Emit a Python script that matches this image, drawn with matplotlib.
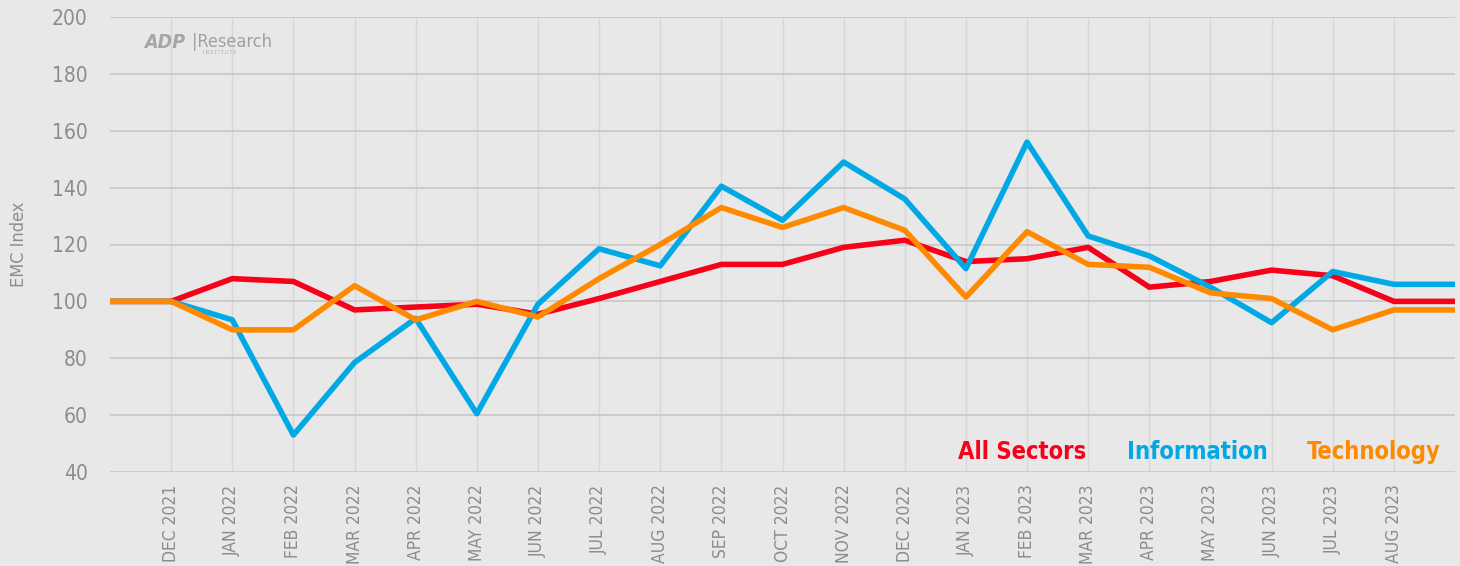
import matplotlib
matplotlib.use("Agg")
import matplotlib.pyplot as plt

months = ["", "DEC 2021", "JAN 2022", "FEB 2022", "MAR 2022", "APR 2022", "MAY 2022",
          "JUN 2022", "JUL 2022", "AUG 2022", "SEP 2022", "OCT 2022", "NOV 2022",
          "DEC 2022", "JAN 2023", "FEB 2023", "MAR 2023", "APR 2023", "MAY 2023",
          "JUN 2023", "JUL 2023", "AUG 2023", ""]

all_sectors = [100, 100, 108, 107, 97, 98, 99, 95.5, 101, 107, 113, 113, 119, 121.5,
               114, 115, 119, 105, 107, 111, 109, 100, 100]
information = [100, 100, 93.5, 53, 78.5, 94, 60.5, 99, 118.5, 112.5, 140.5, 128.5, 149,
               136, 111.5, 156, 123, 116, 105, 92.5, 110.5, 106, 106]
technology = [100, 100, 90, 90, 105.5, 93.5, 100, 94.5, 108, 120, 133, 126, 133, 125,
              101.5, 124.5, 113, 112, 103, 101, 90, 97, 97]

yticks = [40, 60, 80, 100, 120, 140, 160, 180, 200]

BG = "#E7E8E7"
RED = "#F7001A"
BLUE = "#00A8E6"
ORANGE = "#FF8A00"
GRAY = "#8C8C8C"

plt.rcParams["font.family"] = ["DejaVu Sans"]
plt.rcParams["font.stretch"] = "condensed"

fig = plt.figure(figsize=(14.6, 5.66), dpi=100, facecolor=BG)
ax = fig.add_axes([110 / 1460, 94 / 566, 1345 / 1460, 455 / 566])
ax.set_facecolor(BG)

x = list(range(len(months)))
ax.plot(x, all_sectors, color=RED, lw=4.0, solid_joinstyle="round", solid_capstyle="butt", zorder=2)
ax.plot(x, information, color=BLUE, lw=4.0, solid_joinstyle="round", solid_capstyle="butt", zorder=3)
ax.plot(x, technology, color=ORANGE, lw=4.0, solid_joinstyle="round", solid_capstyle="butt", zorder=4)

ax.set_xlim(0, len(months) - 1)
ax.set_ylim(40, 200)
ax.set_yticks(yticks)
ax.set_yticklabels([str(v) for v in yticks], fontsize=15, color=GRAY)
ticks = [i for i, m in enumerate(months) if m]
ax.set_xticks(ticks)
ax.set_xticklabels([months[i] for i in ticks], rotation=90, fontsize=12.5, color=GRAY)
ax.tick_params(axis="both", length=0)
ax.tick_params(axis="y", pad=16)
ax.tick_params(axis="x", pad=9)

ax.grid(axis="y", color="#C6C7C6", lw=1.2, zorder=0)
ax.grid(axis="x", color="#D6D7D6", lw=1.0, zorder=0)
for s in ax.spines.values():
    s.set_visible(False)

ax.set_ylabel("EMC Index", fontsize=13, color=GRAY)
ax.yaxis.set_label_coords(-0.061, 0.5)

# legend as coloured text
ly = 1 - 452 / 566
fig.text(958 / 1460, ly, "All Sectors", color=RED, fontsize=17,
         fontweight="bold", va="center", ha="left")
fig.text(1127 / 1460, ly, "Information", color=BLUE, fontsize=17,
         fontweight="bold", va="center", ha="left")
fig.text(1441 / 1460, ly, "Technology", color=ORANGE, fontsize=17,
         fontweight="bold", va="center", ha="right")

# logo
fig.text(144 / 1460, 1 - 43 / 566, "ADP", color="#A6A6A6", fontsize=14,
         fontweight="bold", style="italic", va="center", ha="left")
fig.text(192 / 1460, 1 - 42 / 566, "|Research", color="#A0A0A0", fontsize=13,
         va="center", ha="left")
fig.text(203 / 1460, 1 - 52 / 566, "I N S T I T U T E", color="#A6A6A6", fontsize=3.5,
         va="center", ha="left")

fig.savefig("out.png", dpi=100, facecolor=BG)
